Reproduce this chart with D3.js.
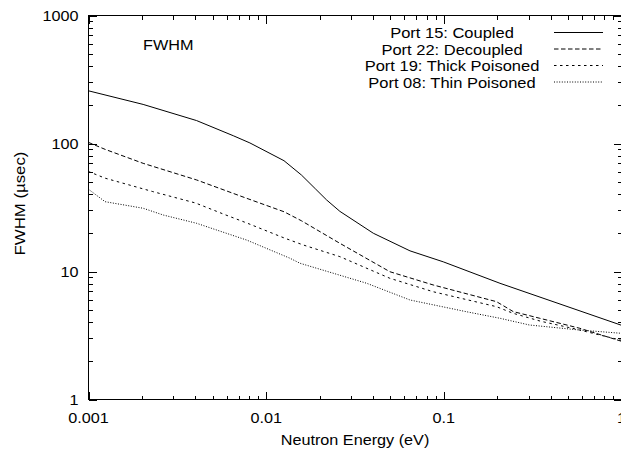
<!DOCTYPE html>
<html>
<head>
<meta charset="utf-8">
<script src="https://cdn.jsdelivr.net/npm/d3@7/dist/d3.min.js"></script>
<style>
  html, body { margin: 0; padding: 0; background: #fff; }
  svg { display: block; }
  text { font-family: "Liberation Sans", Arial, Helvetica, sans-serif; fill: #000; }
</style>
</head>
<body>
<svg id="chart" width="621" height="454"></svg>
<script>
// ---------------- data ----------------
const seriesNames = ["Port 15: Coupled", "Port 22: Decoupled", "Port 19: Thick Poisoned", "Port 08: Thin Poisoned"];

const energyCoupled = [0.001, 0.00203, 0.00406, 0.00653, 0.0081, 0.0126, 0.0158, 0.019, 0.0219, 0.026, 0.0401, 0.0645, 0.0993, 0.207, 1];
const fwhmCoupled   = [258, 202, 151, 115, 101, 73.4, 56.7, 44, 36.2, 29.5, 19.9, 14.5, 11.9, 8.09, 3.8];

const energyDecoupled = [0.001, 0.00124, 0.00203, 0.00406, 0.00777, 0.0126, 0.0158, 0.026, 0.0497, 0.0871, 0.198, 0.246, 0.347, 0.583, 1];
const fwhmDecoupled   = [102, 90, 70, 51.9, 37.3, 29.3, 24.9, 16.6, 9.96, 7.85, 5.81, 4.86, 4.31, 3.6, 2.85];

const energyThick = [0.001, 0.00124, 0.0023, 0.004, 0.0059, 0.0078, 0.0126, 0.0162, 0.026, 0.0497, 0.0871, 0.198, 0.245, 0.35, 0.53, 1];
const fwhmThick   = [60.4, 53.6, 42.1, 34.3, 27.7, 23.9, 18.3, 16.1, 13.06, 8.85, 6.95, 5.31, 4.72, 4.09, 3.6, 2.9];

const energyThin = [0.001, 0.00124, 0.00203, 0.00264, 0.00406, 0.00777, 0.0136, 0.0155, 0.0368, 0.0645, 0.134, 0.207, 0.303, 0.58, 1];
const fwhmThin   = [43.9, 35.1, 31.2, 27.6, 23.8, 17.6, 12.7, 11.6, 8.09, 5.99, 4.85, 4.31, 3.82, 3.49, 3.29];

const xTickValues = [0.001, 0.01, 0.1, 1];
const xTickLabels = ["0.001", "0.01", "0.1", "1"];
const yTickValues = [1, 10, 100, 1000];
const yTickLabels = ["1", "10", "100", "1000"];

const xTitle = "Neutron Energy (eV)";
const yTitle = "FWHM (\u00b5sec)";
const plotLabel = "FWHM";

// ---------------- styles (separate from data) ----------------
const dashStyles = [null, "4.5,2.5", "2.5,3.5", "1,1.6"];

// ---------------- layout ----------------
const svg = d3.select("#chart");
const pLeft = 88.5, pRight = 621.5, pTop = 15.5, pBottom = 399.5;
const FS = 15, SX = 1.08;

const x = d3.scaleLog().domain([0.001, 1]).range([pLeft, pRight]);
const y = d3.scaleLog().domain([1, 1000]).range([pBottom, pTop]);

function stext(txt, px, py, anchor, sx, rot) {
  return svg.append("text")
    .attr("transform", `translate(${px},${py})` + (rot ? ` rotate(${rot})` : "") + ` scale(${sx},1)`)
    .attr("text-anchor", anchor)
    .style("font-size", FS + "px")
    .text(txt);
}

// minor tick values
const xMinor = [], yMinor = [];
[0.001, 0.01, 0.1].forEach(d => { for (let k = 2; k <= 9; k++) xMinor.push(d * k); });
[1, 10, 100].forEach(d => { for (let k = 2; k <= 9; k++) yMinor.push(d * k); });

function addAxis(axisFn, scale, vals, size, transform) {
  const g = svg.append("g").attr("transform", transform)
    .call(axisFn(scale).tickValues(vals).tickSizeInner(size).tickSizeOuter(0).tickFormat(""));
  g.select(".domain").remove();
  g.selectAll("line").attr("stroke", "#000").attr("stroke-width", 1).attr("shape-rendering", "crispEdges");
  return g;
}
addAxis(d3.axisBottom, x, xTickValues, -8, `translate(0,${pBottom})`);
addAxis(d3.axisBottom, x, xMinor, -4, `translate(0,${pBottom})`);
addAxis(d3.axisTop, x, xTickValues, -8, `translate(0,${pTop})`);
addAxis(d3.axisTop, x, xMinor, -4, `translate(0,${pTop})`);
addAxis(d3.axisLeft, y, yTickValues, -8, `translate(${pLeft},0)`);
addAxis(d3.axisLeft, y, yMinor, -4, `translate(${pLeft},0)`);
addAxis(d3.axisRight, y, yTickValues, -8, `translate(${pRight},0)`);
addAxis(d3.axisRight, y, yMinor, -4, `translate(${pRight},0)`);

// border
svg.append("rect").attr("x", pLeft).attr("y", pTop)
  .attr("width", pRight - pLeft).attr("height", pBottom - pTop)
  .attr("fill", "none").attr("stroke", "#000").attr("stroke-width", 1)
  .attr("shape-rendering", "crispEdges");

// tick labels
xTickValues.forEach((v, i) => stext(xTickLabels[i], x(v), 422.5, "middle", SX));
yTickValues.forEach((v, i) => stext(yTickLabels[i], 78.5, y(v) + 5.5, "end", SX));

// titles
stext(xTitle, (pLeft + pRight) / 2, 444.5, "middle", SX);
stext(yTitle, 24.5, 203.5, "middle", 1.12, -90);
stext(plotLabel, 143, 50, "start", SX);

// clip
svg.append("clipPath").attr("id", "clip").append("rect")
  .attr("x", pLeft).attr("y", pTop).attr("width", pRight - pLeft).attr("height", pBottom - pTop);

const allSeries = [
  energyCoupled.map((e, i) => [e, fwhmCoupled[i]]),
  energyDecoupled.map((e, i) => [e, fwhmDecoupled[i]]),
  energyThick.map((e, i) => [e, fwhmThick[i]]),
  energyThin.map((e, i) => [e, fwhmThin[i]])
];

const line = d3.line().x(d => x(d[0])).y(d => y(d[1]));
const lg = svg.append("g").attr("clip-path", "url(#clip)");
allSeries.forEach((s, i) => {
  lg.append("path").datum(s).attr("d", line)
    .attr("fill", "none").attr("stroke", "#000").attr("stroke-width", 1)
    .attr("stroke-dasharray", dashStyles[i]);
});

// legend
const legBase = [38, 54.5, 71, 87.5];
seriesNames.forEach((n, i) => {
  stext(n, 452, legBase[i], "middle", 1.1);
  svg.append("line").attr("x1", 554).attr("x2", 603)
    .attr("y1", legBase[i] - 5.5).attr("y2", legBase[i] - 5.5)
    .attr("stroke", "#000").attr("stroke-width", 1)
    .attr("stroke-dasharray", dashStyles[i]);
});
</script>
</body>
</html>
